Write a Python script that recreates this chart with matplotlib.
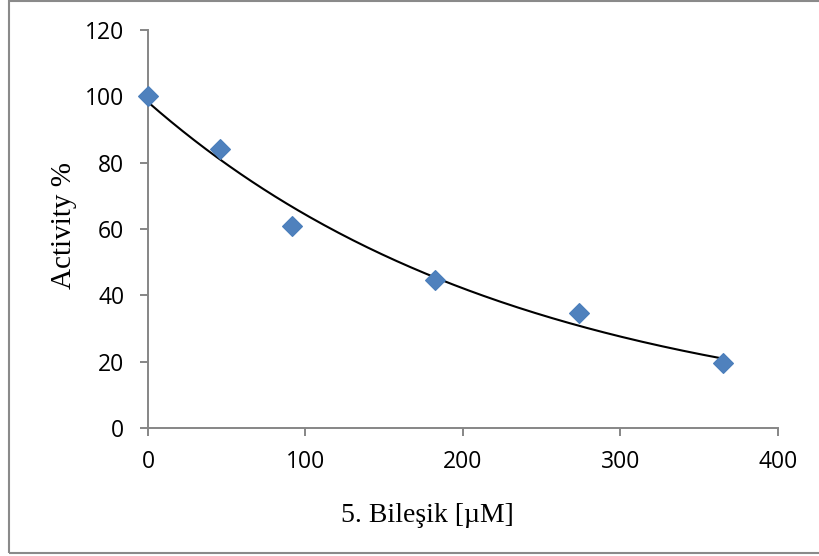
import matplotlib
matplotlib.use('Agg')
import matplotlib.pyplot as plt
from matplotlib.patches import Rectangle
import numpy as np

# measured activity for compound 5
concentration = [0, 45.6, 91.3, 182.6, 274.0, 365.2]
activity = [100.0, 84.0, 60.8, 44.6, 34.6, 19.7]

x_ticks = [0, 100, 200, 300, 400]
y_ticks = [0, 20, 40, 60, 80, 100, 120]

AXIS_GREY = '#868686'
MARKER_BLUE = '#4F81BD'


def exp_trend(x, y):
    """Exponential trendline y = a*exp(b*x), fitted on ln(y)."""
    b, ln_a = np.polyfit(x, np.log(y), 1)
    return np.exp(ln_a), b


fig = plt.figure(figsize=(8.2, 5.56), dpi=100)
ax = fig.add_axes([148 / 820, 1 - 428 / 556, 629.7 / 820, 398 / 556])

a, b = exp_trend(concentration, activity)
xs = np.linspace(min(concentration), max(concentration), 200)
ax.plot(xs, a * np.exp(b * xs), color='black', lw=1.5, zorder=3)

ax.plot(concentration, activity, linestyle='none', marker='D', markersize=10.2,
        markerfacecolor=MARKER_BLUE, markeredgecolor='#4A7EBB',
        markeredgewidth=0.8, zorder=4, clip_on=False)

ax.set_xlim(0, 400)
ax.set_ylim(0, 120)
ax.set_xticks(x_ticks)
ax.set_yticks(y_ticks)

for side in ('top', 'right'):
    ax.spines[side].set_visible(False)
for side in ('left', 'bottom'):
    ax.spines[side].set_color(AXIS_GREY)
    ax.spines[side].set_linewidth(1.4)

ax.tick_params(axis='both', direction='out', length=6, width=1.4,
               color=AXIS_GREY, labelsize=16.5, labelcolor='black')
ax.tick_params(axis='y', pad=11)
ax.tick_params(axis='x', pad=10)
for lbl in ax.get_xticklabels() + ax.get_yticklabels():
    lbl.set_family('Open Sans')

ax.set_ylabel('Activity %', family='Liberation Serif', fontsize=21)
ax.set_xlabel('5. Bileşik [µM]', family='Liberation Serif', fontsize=20)
ax.yaxis.set_label_coords((77 - 148) / 629.7, 0.51)
ax.xaxis.set_label_coords((427.5 - 148) / 629.7, -(503 - 428) / 398)

# chart area border
fig.patches.append(Rectangle((9 / 820, 3 / 556), 1.2, 552 / 556,
                             transform=fig.transFigure, fill=False,
                             edgecolor='#8a8a8a', lw=1.5))

fig.savefig('out.png', dpi=100)
